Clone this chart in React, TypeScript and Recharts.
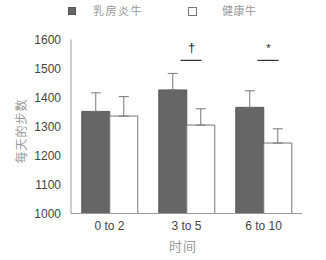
import React from "react";
import {
  Bar,
  BarChart,
  ErrorBar,
  ReferenceDot,
  XAxis,
  YAxis,
} from "recharts";

const categories = ["0 to 2", "3 to 5", "6 to 10"];
const mastitis = [1352, 1426, 1366];
const mastitisErr = [64, 57, 57];
const healthy = [1336, 1305, 1243];
const healthyErr = [67, 56, 49];
const yTicks = [1000, 1100, 1200, 1300, 1400, 1500, 1600];

const sigCategories = ["3 to 5", "6 to 10"];
const sigSymbols = ["†", "*"];
const sigLevel = 1528;

const seriesNames = ["乳房炎牛", "健康牛"];

const data = categories.map((c, i) => ({
  name: c,
  mastitis: mastitis[i],
  mastitisErr: [0, mastitisErr[i]],
  healthy: healthy[i],
  healthyErr: [0, healthyErr[i]],
}));

const CJK = '"Noto Sans CJK SC", sans-serif';
const LATIN = '"Liberation Sans", Arial, sans-serif';

// legend sits above the plot, drawn by hand so it takes no room from the chart
const TopLegend = () => (
  <div style={{ position: "absolute", left: 0, top: 0, width: 326, height: 22, fontFamily: CJK }}>
    <div
      style={{
        position: "absolute",
        left: 68,
        top: 7,
        width: 8,
        height: 8,
        background: "#666",
        border: "1px solid #555",
        boxSizing: "border-box",
      }}
    />
    <span
      style={{
        position: "absolute",
        left: 93,
        top: 2,
        fontSize: 11,
        lineHeight: "16px",
        letterSpacing: 1.5,
        color: "#999",
      }}
    >
      {seriesNames[0]}
    </span>
    <div
      style={{
        position: "absolute",
        left: 188,
        top: 7,
        width: 9,
        height: 9,
        background: "#fff",
        border: "1px solid #777",
        boxSizing: "border-box",
      }}
    />
    <span
      style={{
        position: "absolute",
        left: 222,
        top: 2,
        fontSize: 11,
        lineHeight: "16px",
        letterSpacing: 0.5,
        color: "#999",
      }}
    >
      {seriesNames[1]}
    </span>
  </div>
);

const SigMark = (symbol: string) => (props: any) => {
  const { cx, cy } = props;
  return (
    <g>
      <line x1={cx - 6} x2={cx + 15} y1={cy} y2={cy} stroke="#333" strokeWidth={1.2} />
      <text
        x={cx + 5}
        y={cy - 8}
        textAnchor="middle"
        fontSize={symbol === "*" ? 11 : 13}
        fontFamily={LATIN}
        fill="#222"
      >
        {symbol}
      </text>
    </g>
  );
};

const YTitle = () => (
  <text
    x={20}
    y={131}
    transform="rotate(-90 20 131)"
    textAnchor="middle"
    dominantBaseline="central"
    fontSize={12}
    fontFamily={CJK}
    fill="#999"
    letterSpacing={1}
  >
    每天的步数
  </text>
);

const XTitle = () => (
  <text
    x={183}
    y={245}
    textAnchor="middle"
    dominantBaseline="central"
    fontSize={13}
    fontFamily={CJK}
    fill="#999"
    letterSpacing={1}
  >
    时间
  </text>
);

export default function App() {
  return (
    <div
      style={{
        position: "absolute",
        left: 0,
        top: 0,
        width: 326,
        height: 260,
        background: "#fff",
      }}
    >
      <BarChart
        width={326}
        height={260}
        data={data}
        margin={{ top: 39.5, right: 24, bottom: 16.5, left: 0 }}
        barCategoryGap="14%"
        barGap={0}
      >
        <XAxis
          dataKey="name"
          height={30}
          axisLine={{ stroke: "#999" }}
          tickLine={false}
          tick={{ fontSize: 12, fill: "#444", fontFamily: LATIN }}
          label={<XTitle />}
        />
        <YAxis
          width={71}
          domain={[1000, 1600]}
          ticks={yTicks}
          axisLine={{ stroke: "#999" }}
          tickLine={false}
          tickMargin={4}
          tick={{ fontSize: 12, fill: "#444", fontFamily: LATIN }}
          label={<YTitle />}
        />
        <Bar
          dataKey="mastitis"
          name={seriesNames[0]}
          fill="#666"
          stroke="#5a5a5a"
          isAnimationActive={false}
        >
          <ErrorBar dataKey="mastitisErr" width={5} stroke="#777" strokeWidth={1} />
        </Bar>
        <Bar
          dataKey="healthy"
          name={seriesNames[1]}
          fill="#fff"
          stroke="#777"
          isAnimationActive={false}
        >
          <ErrorBar dataKey="healthyErr" width={5} stroke="#777" strokeWidth={1} />
        </Bar>
        {sigCategories.map((c, i) => (
          <ReferenceDot
            key={c}
            x={c}
            y={sigLevel}
            r={0}
            shape={SigMark(sigSymbols[i])}
          />
        ))}
      </BarChart>
      <TopLegend />
    </div>
  );
}
